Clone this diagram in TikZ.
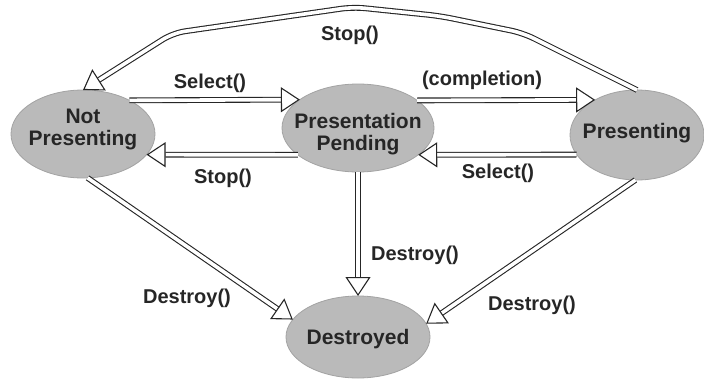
\documentclass[tikz,border=0pt]{standalone}
\usepackage{fontspec}
\setmainfont{Liberation Sans}
\usetikzlibrary{shapes.geometric,arrows.meta}
\begin{document}
\begin{tikzpicture}[x=1pt,y=-1pt,
  state/.style={ellipse, fill=black!27, draw=black!36, line width=0.8pt,
    inner sep=0pt, outer sep=0pt},
  stext/.style={align=center, inner sep=0pt,
    font=\fontsize{21}{22}\selectfont\bfseries, text=black!85},
  lbl/.style={inner sep=0pt, font=\fontsize{20}{20}\selectfont\bfseries,
    text=black!85},
  arr/.style={draw=black!85, line width=1.1pt, double=white,
    double distance=3.6pt,
    -{Triangle[length=19pt,width=25pt,fill=white]}},
]
\fill[white] (0,0) rectangle (704,380);
\useasboundingbox (0,0) rectangle (704,380);

% states
\node[state, minimum width=144pt, minimum height=88pt] (np) at (83,134) {};
\node[state, minimum width=152pt, minimum height=88pt] (pp) at (358,128) {};
\node[state, minimum width=134pt, minimum height=90pt] (pr) at (637,135) {};
\node[state, minimum width=144pt, minimum height=82pt] (ds) at (358,337) {};

\node[stext] (npt) at (83,129) {Not\\Presenting};
\node[stext] (ppt) at (358,134) {Presentation\\Pending};
\node[stext] (prt) at (637,133) {Presenting};
\node[stext] (dst) at (358,339) {Destroyed};

% waypoints of the long Stop() transition
\coordinate (t1) at (523,33);
\coordinate (t2) at (440,16);
\coordinate (t3) at (353,7);
\coordinate (t4) at (173,33);

% transitions
\draw[arr] (np.36.6) -- (pp.154.5);
\draw[arr] (pp.204.2) -- (np.-18.4);
\draw[arr] (pp.25.5) -- (pr.140.3);
\draw[arr] (pr.198.4) -- (pp.-24.2);
\draw[arr] (pp.south) -- (ds.north);
\draw[arr] (np.-84) -- (ds.165.4);
\draw[arr] (pr.-92) -- (ds.11.7);
\draw[arr, rounded corners=12pt] (pr.north) -- (t1) -- (t2) -- (t3) -- (t4) -- (np.north);

% transition labels
\node[lbl] (l1) at (210,83) {Select()};
\node[lbl] (l2) at (223,178) {Stop()};
\node[lbl] (l3) at (482,80) {(completion)};
\node[lbl] (l4) at (498,173) {Select()};
\node[lbl] (l5) at (350,35) {Stop()};
\node[lbl] (l6) at (415,255) {Destroy()};
\node[lbl] (l7) at (187,298) {Destroy()};
\node[lbl] (l8) at (532,305) {Destroy()};
\end{tikzpicture}
\end{document}
